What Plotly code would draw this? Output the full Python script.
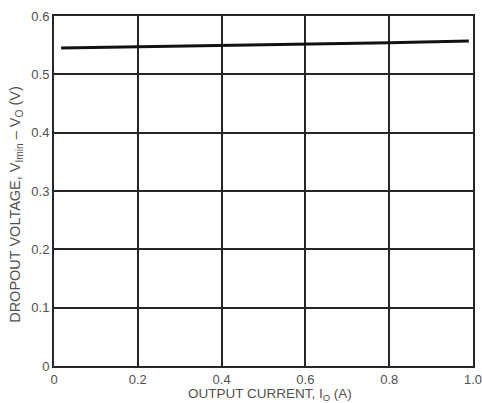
import plotly.graph_objects as go

current_a = [0.017, 0.2, 0.4, 0.6, 0.8, 0.99]
dropout_v = [0.545, 0.547, 0.550, 0.552, 0.554, 0.557]
x_ticks = [0, 0.2, 0.4, 0.6, 0.8, 1.0]
x_tick_labels = ["0", "0.2", "0.4", "0.6", "0.8", "1.0"]
y_ticks = [0, 0.1, 0.2, 0.3, 0.4, 0.5, 0.6]
y_tick_labels = ["0", "0.1", "0.2", "0.3", "0.4", "0.5", "0.6"]
x_title = "OUTPUT CURRENT, I<sub>O</sub> (A)"
y_title = "DROPOUT VOLTAGE, V<sub>Imin</sub> \u2013 V<sub>O</sub> (V)"

fig = go.Figure()
fig.add_trace(go.Scatter(x=current_a, y=dropout_v, mode="lines",
                         line=dict(color="#111111", width=3), showlegend=False))

tick_font = dict(family="Liberation Sans, Arial, sans-serif", size=13, color="#505050")
x_title_font = dict(family="Liberation Sans, Arial, sans-serif", size=13.5, color="#505050")
y_title_font = dict(family="Liberation Sans, Arial, sans-serif", size=14.5, color="#505050")
axis_common = dict(showgrid=True, gridcolor="#262626", gridwidth=1.5,
                   showline=True, linecolor="#262626", linewidth=2, mirror=True,
                   zeroline=False, ticks="", automargin=False, tickfont=tick_font,
                   ticklabeloverflow="allow")

fig.update_layout(
    width=482, height=403,
    margin=dict(l=54, r=9, t=16, b=37),
    paper_bgcolor="white", plot_bgcolor="white",
    font=tick_font,
    xaxis=dict(range=[0, 1.0], tickvals=x_ticks, ticktext=x_tick_labels,
               ticklabelstandoff=0, **axis_common),
    yaxis=dict(range=[0, 0.6], tickvals=y_ticks, ticktext=y_tick_labels, **axis_common),
    annotations=[
        dict(text=x_title, xref="paper", yref="paper", x=0.516, y=-0.081,
             xanchor="center", yanchor="middle", showarrow=False, font=x_title_font),
        dict(text=y_title, xref="paper", yref="paper", x=-0.091, y=0.463,
             xanchor="center", yanchor="middle", textangle=-90, showarrow=False, font=y_title_font),
    ],
)

fig.write_html("out.html", config={"displayModeBar": False},
               post_script="document.body.style.margin='0';")
